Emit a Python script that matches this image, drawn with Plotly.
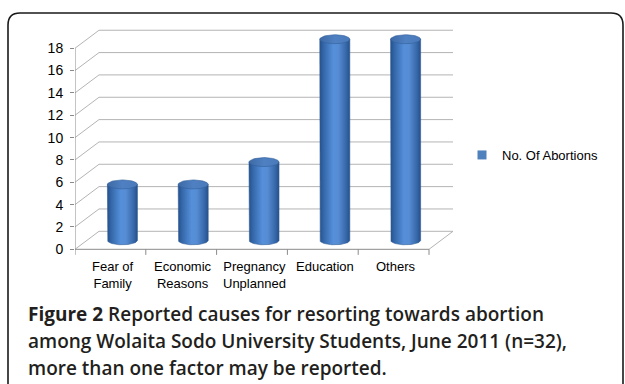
import numpy as np
import plotly.graph_objects as go

# ---- data ----
categories = ["Fear of<br>Family", "Economic<br>Reasons", "Pregnancy<br>Unplanned", "Education", "Others"]
values = [5, 5, 7, 18, 18]
series_name = "No. Of Abortions"
y_ticks = [0, 2, 4, 6, 8, 10, 12, 14, 16, 18]
caption_lines = [
    '<span style="font-weight:700">Figure 2</span> Reported causes for resorting towards abortion',
    "among Wolaita Sodo University Students, June 2011 (n=32),",
    "more than one factor may be reported.",
]

# ---- layout geometry ----
W, H = 625, 384
ML, MR, MT, MB = 75, 172, 29, 128
PXX = 70.8   # px per category unit
PXY = 11.17  # px per value unit
plot_w = W - ML - MR
plot_h = H - MT - MB
x_range = [-0.5, -0.5 + plot_w / PXX]
y_range = [-0.6, -0.6 + plot_h / PXY]
DX = 24 / PXX   # depth offset (x, units)
DY = 18 / PXY   # depth offset (y, units)
n = len(categories)
x0f, x1f = -0.5, n - 0.5


def px2paper_x(px):
    return (px - ML) / plot_w


def px2paper_y(py):
    return (H - MB - py) / plot_h


fig = go.Figure()

# back wall gridlines + side wall diagonals
gx, gy = [], []
for v in y_ticks:
    gx += [x0f, x0f + DX, x1f + DX, None]
    gy += [v, v + DY, v + DY, None]
# floor right edge
gx += [x1f, x1f + DX, None]
gy += [0, DY, None]
fig.add_trace(go.Scatter(x=gx, y=gy, mode="lines", line=dict(color="#b4b4b4", width=1),
                         hoverinfo="skip", showlegend=False))

# axes lines (front)
ax, ay = [x0f, x0f, None, x0f, x1f, None], [y_ticks[-1], 0, None, 0, 0, None]
for k in range(n + 1):
    ax += [x0f + k, x0f + k, None]
    ay += [0, -0.5, None]
fig.add_trace(go.Scatter(x=ax, y=ay, mode="lines", line=dict(color="#8a8a8a", width=1),
                         hoverinfo="skip", showlegend=False))

# cylinders
R = 0.212
RY = 4.5 / PXY
t = np.linspace(0, np.pi, 40)
body_scale = [[0, "#26508a"], [0.12, "#3366a8"], [0.45, "#5690da"], [0.62, "#568cd3"],
              [0.88, "#3667a8"], [1, "#26508a"]]
cap_scale = [[0, "#3e6aa6"], [0.5, "#4f80c2"], [1, "#4a7aba"]]
for i, v in enumerate(values):
    cx = i + DX / 2
    base = DY / 2
    top = v + DY / 2
    bx = [cx - R, cx - R] + list(cx + R * np.cos(np.pi - t)) + [cx + R, cx - R]
    by = [top, base] + list(base - RY * np.sin(t)) + [top, top]
    fig.add_trace(go.Scatter(x=bx, y=by, mode="lines", fill="toself",
                             line=dict(color="#2f5c96", width=0.6),
                             fillgradient=dict(type="horizontal", colorscale=body_scale),
                             hoverinfo="skip", showlegend=False))
    tt = np.linspace(0, 2 * np.pi, 60)
    fig.add_trace(go.Scatter(x=cx + R * np.cos(tt), y=top + RY * np.sin(tt), mode="lines",
                             fill="toself", line=dict(color="#325f9a", width=0.6),
                             fillgradient=dict(type="horizontal", colorscale=cap_scale),
                             hoverinfo="skip", showlegend=False))

# legend entry
fig.add_trace(go.Scatter(x=[None], y=[None], mode="markers", name=series_name,
                         marker=dict(symbol="square", size=9, color="#4f81bd")))

# category labels
annotations = []
for i, c in enumerate(categories):
    annotations.append(dict(x=i + 0.03, y=0, xref="x", yref="y", text=c, showarrow=False,
                            xanchor="center", yanchor="top", yshift=-8,
                            font=dict(family="Liberation Sans, Arial", size=13, color="#000000")))

# caption
cap_y = [313.5, 341, 367.5]
for line, py in zip(caption_lines, cap_y):
    annotations.append(dict(x=px2paper_x(26), y=px2paper_y(py), xref="paper", yref="paper",
                            text=line, showarrow=False, xanchor="left", yanchor="middle",
                            font=dict(family="Open Sans, sans-serif", size=19,
                                      color="#231f20", weight=600)))

# rounded border
bx0, by0, bx1, by1, rr = px2paper_x(8), px2paper_y(13), px2paper_x(623), px2paper_y(430), 12
rx, ry = rr / plot_w, rr / plot_h
path = (f"M {bx0},{by1} L {bx0},{by0 - ry} Q {bx0},{by0} {bx0 + rx},{by0} "
        f"L {bx1 - rx},{by0} Q {bx1},{by0} {bx1},{by0 - ry} L {bx1},{by1}")

fig.update_layout(
    width=W, height=H,
    margin=dict(l=ML, r=MR, t=MT, b=MB, pad=0),
    paper_bgcolor="white", plot_bgcolor="white",
    xaxis=dict(range=x_range, showgrid=False, zeroline=False, showline=False,
               showticklabels=False, ticks="", fixedrange=True),
    yaxis=dict(range=y_range, showgrid=False, zeroline=False, showline=False,
               tickvals=y_ticks, ticks="outside", ticklen=4, tickcolor="#8a8a8a",
               ticklabelstandoff=4,
               tickfont=dict(family="Liberation Sans, Arial", size=14, color="#000000"),
               fixedrange=True),
    showlegend=True,
    legend=dict(x=px2paper_x(462), y=px2paper_y(155), xanchor="left", yanchor="middle",
                bgcolor="rgba(0,0,0,0)", itemwidth=30,
                font=dict(family="Liberation Sans, Arial", size=13, color="#000000")),
    annotations=annotations,
    shapes=[dict(type="path", path=path, xref="paper", yref="paper",
                 line=dict(color="#1a1a1a", width=1.6))],
)

fig.write_html("out.html")
